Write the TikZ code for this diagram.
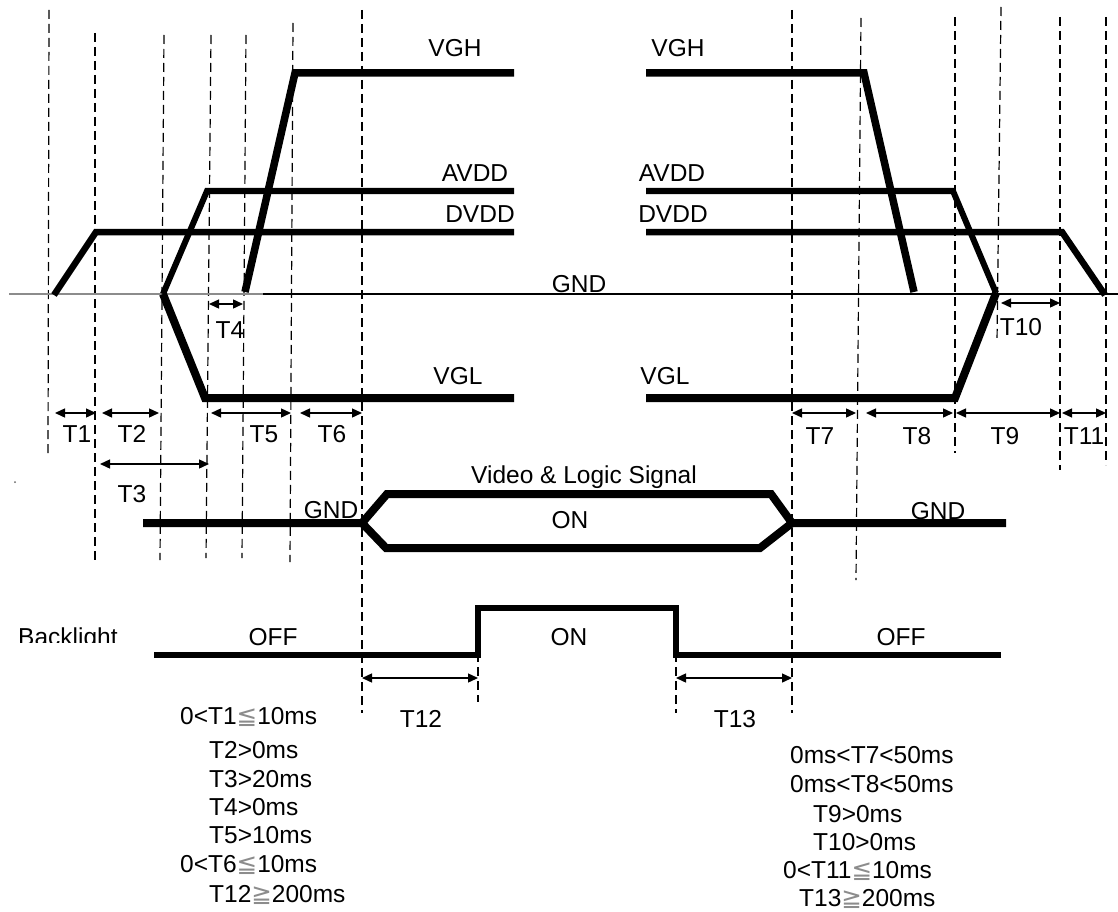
\documentclass[tikz,border=0pt]{standalone}
\usepackage{fontspec}
\setmainfont{Liberation Sans}
\newfontfamily\dvf{DejaVu Sans}
\usetikzlibrary{arrows.meta}
\newcommand{\leqq}{{\dvf\color{black!45}≦}}
\newcommand{\geqq}{{\dvf\color{black!45}≧}}
\begin{document}
\begin{tikzpicture}[x=1pt,y=-1pt,
  font=\fontsize{24.5}{28}\selectfont,
  sig/.style={line width=#1, line join=miter, line cap=butt},
  sig/.default=7pt,
  dsh/.style={line width=1.2pt, dash pattern=on 9pt off 5pt},
  dim/.style={line width=1.4pt, {Triangle[length=10pt,width=9pt]}-{Triangle[length=10pt,width=9pt]}},
  lbl/.style={inner sep=0pt, anchor=base},
  lblw/.style={inner sep=0pt, anchor=base west}]
\useasboundingbox[fill=white] (0,0) rectangle (1118,912);

% dashed guide lines
\draw[dsh] (49,10) -- (48,457);
\draw[dsh] (95,33) -- (95,560);
\draw[dsh] (164,35) -- (160,560);
\draw[dsh] (211,35) -- (206,558);
\draw[dsh] (246,35) -- (242,558);
\draw[dsh] (293,23) -- (290,562);
\draw[dsh] (362,10) -- (362,713);
\draw[dsh] (792,10) -- (792,713);
\draw[dsh] (861,18) -- (856,580);
\draw[dsh] (955,17) -- (955,453);
\draw[dsh] (1001,7) -- (997,342);
\draw[dsh] (1060,17) -- (1060,470);
\draw[dsh] (1106,17) -- (1106,465);
\draw[dsh] (478,653) -- (478,702);
\draw[dsh] (676,653) -- (676,713);

% GND reference line
\draw[line width=1.5pt, black!45] (9,294) -- (263,294);
\draw[line width=1.3pt] (263,294) -- (1118,294);

% power-on signals
\draw[sig=7.5pt] (245,292) -- (295,73) -- (514,73);
\draw[sig=6pt] (163,294) -- (207,191) -- (514,191);
\draw[sig=6.5pt] (54,295) -- (96,232) -- (514,232);
\draw[sig=8pt] (163,294) -- (205,398) -- (514,398);
% power-off signals
\draw[sig=7.5pt] (646,73) -- (864,73) -- (914,292);
\draw[sig=6pt] (646,191) -- (953,191) -- (996,293);
\draw[sig=6.5pt] (646,232) -- (1062,232) -- (1105,295);
\draw[sig=8pt] (646,398) -- (955,398) -- (996,293);

% video & logic signal
\draw[sig=8pt] (143,523) -- (362,523) -- (387,494) -- (771,494) -- (792,523) -- (1006,523);
\draw[sig=8pt] (362,523) -- (386,548) -- (760,548) -- (792,523);

% backlight
\draw[sig=6.5pt] (154,655) -- (478,655) -- (478,608) -- (676,608) -- (676,655) -- (1001,655);

% signal labels
\node[lbl] (vghL) at (455,57) {VGH};
\node[lbl] (vghR) at (678,57) {VGH};
\node[lbl] (avddL) at (475,182) {AVDD};
\node[lbl] (avddR) at (672,182) {AVDD};
\node[lbl] (dvddL) at (480,222) {DVDD};
\node[lbl] (dvddR) at (673,222) {DVDD};
\node[lbl] (vglL) at (458,384) {VGL};
\node[lbl] (vglR) at (665,384) {VGL};
\node[lbl] (gndT) at (579,292) {GND};
\node[lbl] (vls) at (584,483) {Video \& Logic Signal};
\node[lbl] (gndVL) at (331,518) {GND};
\node[lbl] (gndVR) at (938,519) {GND};
\node[lbl] (onV) at (570,528) {ON};
\begin{scope}
  \clip (0,600) rectangle (200,642);
  \node[lblw] (bl) at (18,645) {Backlight};
\end{scope}
\node[lbl] (offL) at (273,645) {OFF};
\node[lbl] (onB) at (569,645) {ON};
\node[lbl] (offR) at (901,645) {OFF};
\fill[black!60] (15,482) circle (1pt);

% dimension arrows
\coordinate (t1a) at (55,413);  \coordinate (t1b) at (96,413);
\coordinate (t2a) at (102,413); \coordinate (t2b) at (159,413);
\coordinate (t3a) at (100,464); \coordinate (t3b) at (209,464);
\coordinate (t4a) at (209,304); \coordinate (t4b) at (243,304);
\coordinate (t5a) at (211,413); \coordinate (t5b) at (291,413);
\coordinate (t6a) at (300,413); \coordinate (t6b) at (362,413);
\coordinate (t7a) at (792,413); \coordinate (t7b) at (856,413);
\coordinate (t8a) at (866,413); \coordinate (t8b) at (953,413);
\coordinate (t9a) at (956,413); \coordinate (t9b) at (1060,413);
\coordinate (t10a) at (1001,303); \coordinate (t10b) at (1060,303);
\coordinate (t11a) at (1062,413); \coordinate (t11b) at (1106,413);
\coordinate (t12a) at (362,678); \coordinate (t12b) at (478,678);
\coordinate (t13a) at (676,678); \coordinate (t13b) at (792,678);
\foreach \n in {1,...,13}{\draw[dim] (t\n a) -- (t\n b);}

\node[lbl] (T1) at (77,442) {T1};
\node[lbl] (T2) at (132,442) {T2};
\node[lbl] (T3) at (132,502) {T3};
\node[lbl] (T4) at (230,338) {T4};
\node[lbl] (T5) at (264,442) {T5};
\node[lbl] (T6) at (332,442) {T6};
\node[lbl] (T7) at (820,444) {T7};
\node[lbl] (T8) at (917,444) {T8};
\node[lbl] (T9) at (1005,444) {T9};
\node[lbl] (T10) at (1021,335) {T10};
\node[lbl] (T11) at (1084,444) {T11};
\node[lbl] (T12) at (421,727) {T12};
\node[lbl] (T13) at (735,727) {T13};

% timing specs
\node[lblw] (s1) at (180,724) {0<T1\leqq10ms};
\node[lblw] (s2) at (209,758) {T2>0ms};
\node[lblw] (s3) at (209,787) {T3>20ms};
\node[lblw] (s4) at (209,815) {T4>0ms};
\node[lblw] (s5) at (209,843) {T5>10ms};
\node[lblw] (s6) at (180,872) {0<T6\leqq10ms};
\node[lblw] (s12) at (209,902) {T12\geqq200ms};
\node[lblw] (s7) at (790,763) {0ms<T7<50ms};
\node[lblw] (s8) at (790,792) {0ms<T8<50ms};
\node[lblw] (s9) at (813,822) {T9>0ms};
\node[lblw] (s10) at (813,850) {T10>0ms};
\node[lblw] (s11) at (783,878) {0<T11\leqq10ms};
\node[lblw] (s13) at (799,906) {T13\geqq200ms};
\end{tikzpicture}
\end{document}
